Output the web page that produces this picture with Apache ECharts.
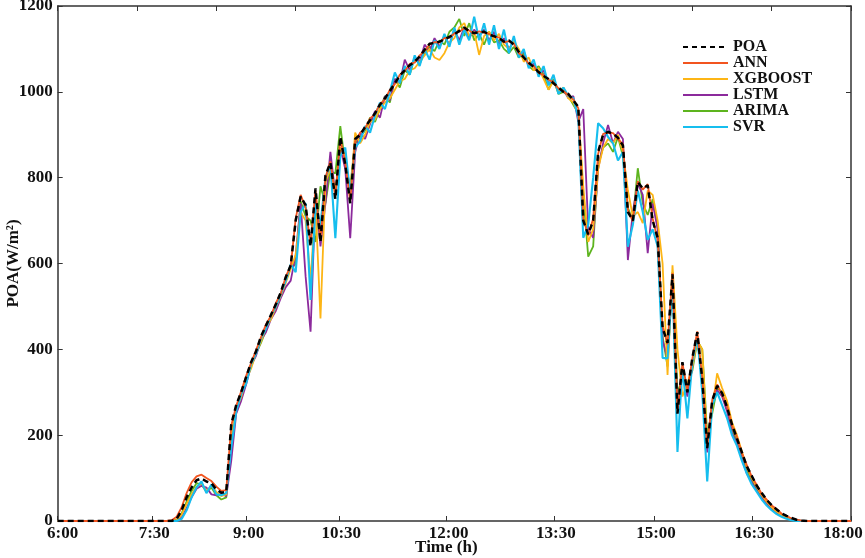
<!DOCTYPE html>
<html><head><meta charset="utf-8">
<script src="https://cdn.jsdelivr.net/npm/echarts@6/dist/echarts.min.js"></script>
<style>html,body{margin:0;padding:0;background:#fff}#c{width:865px;height:558px}</style>
</head><body><div id="c"></div>
<script>
const timeLabels = ['6:00','7:30','9:00','10:30','12:00','13:30','15:00','16:30','18:00'];
const tickSamples = [0,19.07,38.11,56.78,78.45,100.08,120.26,140.08,160];
const yTicks = [0,200,400,600,800,1000,1200];

const poa = [
0,0,0,0,0,0,0,0,0,0,
0,0,0,0,0,0,0,0,0,0,
0,0,0,0,5,25,55,78,95,99,
92,88,73,66,68,225,270,300,335,370,
395,430,455,480,505,533,568,596,700,756,
736,640,775,650,805,835,750,895,830,740,
890,900,918,934,950,970,985,1002,1020,1038,
1050,1062,1070,1082,1098,1112,1114,1117,1122,1128,
1134,1142,1150,1141,1137,1139,1140,1133,1130,1125,
1117,1120,1110,1093,1080,1068,1058,1046,1037,1030,
1020,1010,1000,995,980,965,700,668,700,860,
900,907,902,893,875,720,700,790,775,782,
700,660,450,415,575,250,370,300,380,440,
330,170,280,315,298,265,225,192,160,127,
105,82,65,49,37,27,18,12,7,3,
1,0,0,0,0,0,0,0,0,0,
0];
const ann = [
0,0,0,0,0,0,0,0,0,0,
0,0,0,0,0,0,0,0,0,0,
0,0,0,2,10,32,65,90,104,108,
100,93,80,70,72,222,268,302,338,368,
398,428,458,478,508,530,570,594,705,760,
730,645,770,655,800,838,755,890,835,745,
885,905,915,938,948,972,982,1005,1018,1040,
1048,1065,1068,1085,1095,1110,1116,1115,1125,1126,
1136,1140,1148,1143,1135,1141,1138,1135,1128,1127,
1115,1118,1112,1090,1082,1065,1060,1044,1039,1028,
1022,1008,1002,992,982,962,705,665,705,855,
902,905,904,890,878,725,698,792,772,785,
705,655,455,412,578,255,368,305,378,442,
335,175,282,318,295,268,222,195,158,130,
103,84,63,50,36,28,17,12,6,3,
1,0,0,0,0,0,0,0,0,0,
0];
const xgboost = [
0,0,0,0,0,0,0,0,0,0,
0,0,0,0,0,0,0,0,0,0,
0,0,0,0,2,15,40,62,80,88,
70,82,68,58,62,200,262,288,330,355,
392,418,450,470,498,525,555,588,620,720,
700,560,740,472,790,820,770,870,850,760,
905,880,900,930,935,960,975,985,1005,1025,
1030,1050,1055,1070,1085,1100,1080,1074,1090,1115,
1125,1150,1160,1130,1140,1086,1130,1140,1120,1135,
1110,1100,1118,1100,1070,1080,1050,1055,1030,1005,
1025,1000,1010,985,975,950,780,650,680,820,
870,890,880,900,860,770,710,720,694,770,
760,700,600,340,596,400,290,320,360,420,
400,180,260,344,310,280,230,200,162,125,
100,80,60,45,32,22,14,8,4,1,
0,0,0,0,0,0,0,0,0,0,
0];
const lstm = [
0,0,0,0,0,0,0,0,0,0,
0,0,0,0,0,0,0,0,0,0,
0,0,0,0,0,8,30,55,75,82,
78,62,60,63,58,140,250,280,318,362,
385,422,440,470,490,520,545,560,620,740,
570,441,760,640,740,860,760,870,820,659,
860,905,890,925,955,940,990,980,1030,1020,
1075,1050,1080,1070,1110,1095,1125,1105,1130,1110,
1145,1120,1150,1125,1145,1130,1145,1120,1140,1110,
1125,1100,1118,1085,1095,1060,1065,1040,1050,1020,
1025,1000,1005,985,990,930,960,680,660,820,
880,923,880,907,890,608,720,787,760,624,
740,680,420,380,560,260,340,290,360,430,
320,160,275,305,290,255,205,180,145,110,
90,70,55,40,30,20,12,8,4,2,
0,0,0,0,0,0,0,0,0,0,
0];
const arima = [
0,0,0,0,0,0,0,0,0,0,
0,0,0,0,0,0,0,0,0,0,
0,0,0,0,3,18,45,70,88,85,
68,78,60,50,55,180,265,290,325,360,
390,415,445,475,495,530,560,590,598,745,
710,700,650,780,740,815,810,920,830,780,
880,895,910,940,930,960,990,975,1030,1010,
1050,1040,1080,1065,1090,1105,1095,1120,1110,1140,
1150,1170,1130,1160,1120,1135,1110,1140,1115,1120,
1100,1090,1105,1080,1090,1060,1050,1060,1040,1005,
1030,995,1000,990,970,950,760,616,640,830,
870,880,860,895,850,730,700,822,740,713,
750,690,430,360,580,300,330,320,350,420,
400,200,250,310,300,260,215,185,150,118,
95,72,55,42,30,20,13,8,4,2,
0,0,0,0,0,0,0,0,0,0,
0];
const svr = [
0,0,0,0,0,0,0,0,0,0,
0,0,0,0,0,0,0,0,0,0,
0,0,0,0,0,5,25,55,78,92,
65,85,62,60,65,170,255,295,320,365,
390,425,448,478,500,528,560,598,580,720,
740,515,740,690,800,830,659,850,870,760,
870,885,920,905,945,975,960,1000,1045,1020,
1060,1040,1085,1060,1100,1075,1120,1100,1135,1105,
1150,1110,1145,1120,1175,1120,1160,1110,1155,1100,
1145,1090,1130,1080,1100,1055,1075,1035,1060,1015,
1040,995,1010,990,985,940,660,690,800,927,
915,895,880,840,860,639,690,770,720,655,
680,640,380,379,560,161,360,239,370,430,
300,92,270,300,270,240,200,175,140,110,
85,68,50,36,25,16,10,5,2,0,
0,0,0,0,0,0,0,0,0,0,
0];

const FONT = 'Liberation Serif';
const pairs = arr => arr.map((v, i) => [i, v]);
const chart = echarts.init(document.getElementById('c'), null, {renderer: 'canvas'});
const axisLine = {show: true, onZero: false, lineStyle: {color: '#333', width: 1.5}};
const mk = (name, data, color, width, dashed, z) => ({
  name, type: 'line', data: pairs(data), symbol: 'none', showSymbol: false, z,
  lineStyle: {color, width, type: dashed ? [6, 4] : 'solid'},
  itemStyle: {color}, animation: false
});
const labelText = {fontFamily: FONT, fontWeight: 'bold', fontSize: 17, color: '#111'};
chart.setOption({
  animation: false,
  grid: {left: 57.7, right: 14, top: 6, bottom: 37, containLabel: false, outerBoundsMode: 'none'},
  legend: {
    orient: 'vertical', left: 677, top: 34, itemWidth: 45, itemHeight: 10, itemGap: 0,
    itemStyle: {opacity: 0},
    textStyle: {fontFamily: FONT, fontWeight: 'bold', fontSize: 16, color: '#111', lineHeight: 15.7},
    data: [
      {name: 'POA', lineStyle: {type: [5, 4]}},
      'ANN', 'XGBOOST', 'LSTM', 'ARIMA', 'SVR'
    ]
  },
  xAxis: [
    {type: 'value', position: 'bottom', min: 0, max: 160,
     name: 'Time (h)', nameLocation: 'middle', nameGap: 18, nameMoveOverlap: false,
     nameTextStyle: Object.assign({padding: [0, 16, 0, 0]}, labelText),
     axisLine, splitLine: {show: false},
     axisTick: {show: true, inside: true, length: 5, customValues: tickSamples, lineStyle: {color: '#333'}},
     axisLabel: Object.assign({show: true, customValues: tickSamples, margin: 4,
       rich: {
         f: Object.assign({padding: [0, 0, 0, 10]}, labelText),
         l: Object.assign({padding: [0, 16, 0, 0]}, labelText),
         m: Object.assign({padding: [0, 0, 0, 4]}, labelText)
       },
       formatter: v => {
         const k = tickSamples.findIndex(t => Math.abs(t - v) < 0.01);
         if (k < 0) return '';
         const tag = k === 0 ? 'f' : (k === timeLabels.length - 1 ? 'l' : 'm');
         return '{' + tag + '|' + timeLabels[k] + '}';
       }}, labelText)
    },
    {type: 'value', position: 'top', min: 0, max: 160, interval: 16,
     axisLine, splitLine: {show: false}, axisLabel: {show: false},
     axisTick: {show: true, inside: true, length: 5, lineStyle: {color: '#333'}}}
  ],
  yAxis: [
    {type: 'value', min: 0, max: 1200, interval: 200, position: 'left',
     name: 'POA(W/m²)', nameLocation: 'middle', nameGap: 36, nameRotate: 90, nameMoveOverlap: false,
     nameTextStyle: labelText,
     axisLine, splitLine: {show: false},
     axisTick: {show: true, inside: true, length: 5, lineStyle: {color: '#333'}},
     axisLabel: Object.assign({margin: 5, customValues: yTicks, formatter: v => String(v)}, labelText)},
    {type: 'value', min: 0, max: 1200, interval: 200, position: 'right',
     axisLine, splitLine: {show: false}, axisLabel: {show: false},
     axisTick: {show: true, inside: true, length: 5, lineStyle: {color: '#333'}}}
  ],
  series: [
    mk('ARIMA', arima, '#5DB41E', 1.8, false, 2),
    mk('LSTM', lstm, '#8C2A9C', 1.8, false, 3),
    mk('XGBOOST', xgboost, '#FDB515', 1.8, false, 4),
    mk('SVR', svr, '#16BEEE', 2.1, false, 5),
    mk('ANN', ann, '#F2541F', 1.8, false, 6),
    mk('POA', poa, '#000000', 2.5, true, 7)
  ]
});
</script></body></html>
